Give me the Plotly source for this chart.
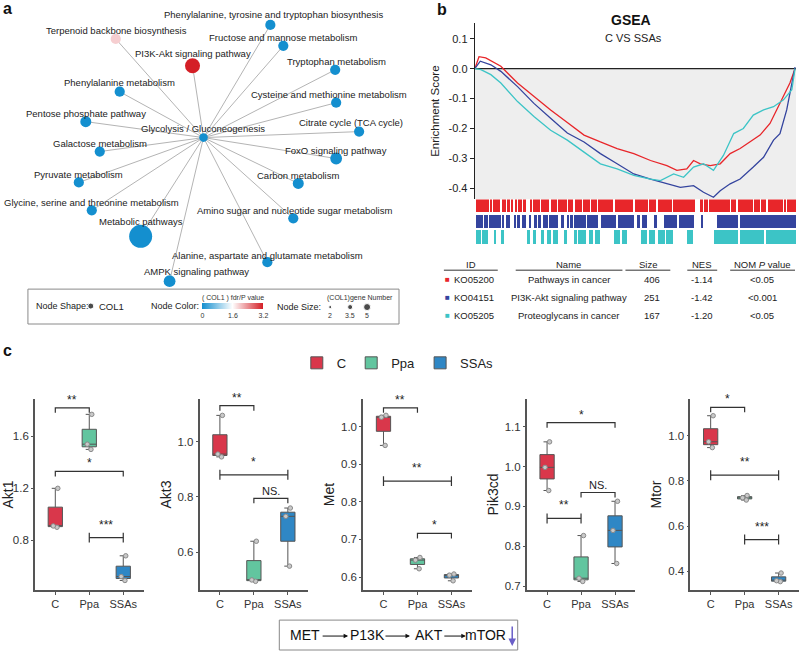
import plotly.graph_objects as go

W, H = 800, 657
FONT = "Arial, Liberation Sans, sans-serif"


def px(x):
    return x / W


def py(y):
    return 1 - y / H


# ---------------- Panel a: enrichment network (data) ----------------
pathway_names = [
    "Phenylalanine, tyrosine and tryptophan biosynthesis",
    "Terpenoid backbone biosynthesis",
    "Fructose and mannose metabolism",
    "PI3K-Akt signaling pathway",
    "Tryptophan metabolism",
    "Phenylalanine metabolism",
    "Cysteine and methionine metabolism",
    "Pentose phosphate pathway",
    "Citrate cycle (TCA cycle)",
    "Glycolysis / Gluconeogenesis",
    "Galactose metabolism",
    "FoxO signaling pathway",
    "Pyruvate metabolism",
    "Carbon metabolism",
    "Glycine, serine and threonine metabolism",
    "Amino sugar and nucleotide sugar metabolism",
    "Metabolic pathways",
    "Alanine, aspartate and glutamate metabolism",
    "AMPK signaling pathway",
]
pathway_gene_number = [2, 2, 2, 5, 2, 2, 2, 2.5, 2, 1, 2, 3, 2, 2.5, 2, 2, 10, 2, 3]
pathway_fdr = [0, 1.95, 0, 3.2, 0, 0, 0, 0, 0, 0, 0, 0, 0, 0, 0, 0, 0, 0, 0]
hub_name = "Glycolysis / Gluconeogenesis"

# network layout (pixel space of panel a)
node_pos = [(269, 25), (114, 39), (282, 46), (191, 66), (334, 70), (118, 92),
            (335, 103), (84, 122), (358, 132), (202, 138), (98, 152), (335, 159),
            (77, 183), (297, 184), (90, 211), (292, 219), (139, 237), (266, 263),
            (168, 282)]
label_pos = [(272, 15), (115, 31), (282, 38), (191, 54), (335, 62), (118, 83),
             (328, 95), (84, 114), (350, 123), (202, 129), (98, 144), (335, 151),
             (77, 175), (297, 176), (90, 203), (293, 211), (139, 222), (266, 256),
             (195, 272)]

# ---------------- Panel b: GSEA (data) ----------------
gsea_ids = ["KO05200", "KO04151", "KO05205"]
gsea_names = ["Pathways in cancer", "PI3K-Akt signaling pathway", "Proteoglycans in cancer"]
gsea_sizes = ["406", "251", "167"]
gsea_nes = ["-1.14", "-1.42", "-1.20"]
gsea_pvals = ["<0.05", "<0.001", "<0.05"]
gsea_colors = ["#e8262a", "#34449e", "#3cc4c6"]

rank_red = [0, 1.3, 3.4, 8.1, 13.3, 18.4, 23.6, 28.8, 34.0, 39.1, 44.3, 49.5, 54.7, 59.8,
            62.9, 66.0, 68.1, 70.2, 73.3, 76.4, 79.5, 82.6, 85.7, 88.8, 91.9, 94.0, 96.1, 98.1, 99.7]
es_red = [0, 0.04, 0.036, 0.008, -0.048, -0.093, -0.138, -0.18, -0.222, -0.245, -0.267, -0.284,
          -0.307, -0.324, -0.34, -0.335, -0.307, -0.318, -0.324, -0.318, -0.284, -0.267, -0.245,
          -0.222, -0.183, -0.138, -0.093, -0.048, 0]
rank_blue = [0, 1.7, 5.0, 8.1, 13.3, 18.4, 23.6, 28.8, 34.0, 39.1, 44.3, 49.5, 54.7, 59.8, 64.0,
             68.1, 71.2, 74.3, 76.4, 79.5, 82.6, 86.7, 89.9, 93.0, 95.0, 97.1, 98.6, 99.7]
es_blue = [0, 0.025, 0.013, -0.009, -0.06, -0.116, -0.166, -0.215, -0.245, -0.284, -0.318, -0.352,
           -0.369, -0.385, -0.397, -0.391, -0.413, -0.43, -0.408, -0.385, -0.369, -0.329, -0.296,
           -0.239, -0.217, -0.138, -0.048, 0.005]
rank_cyan = [0, 1.9, 5.0, 8.1, 13.3, 18.4, 23.6, 28.8, 34.0, 39.1, 44.3, 49.5, 54.7, 57.8, 61.9,
             65.0, 68.1, 71.2, 74.3, 77.4, 80.6, 83.6, 86.7, 89.9, 93.0, 96.1, 98.7, 99.7]
es_cyan = [0, -0.003, -0.02, -0.048, -0.11, -0.16, -0.206, -0.239, -0.279, -0.318, -0.335, -0.357,
           -0.369, -0.374, -0.352, -0.363, -0.329, -0.318, -0.34, -0.29, -0.217, -0.2, -0.155,
           -0.138, -0.127, -0.104, -0.07, 0]

# hit regions (rank %, start-end) for the barcode strips
hits_red = [[0.3, 4.3], [4.7, 5.3], [5.7, 7.9], [8.3, 9.7], [10.1, 11.0], [11.4, 12.0],
            [12.4, 13.1], [13.5, 13.9], [14.3, 14.6], [15.0, 15.8], [17.2, 17.7], [18.1, 20.3],
            [20.7, 23.2], [23.6, 25.5], [25.9, 28.6], [29.0, 30.6], [31.0, 33.2], [33.6, 35.8],
            [36.2, 37.9], [38.3, 43.1], [43.5, 49.3], [49.7, 53.9], [54.3, 56.5], [56.9, 61.2],
            [61.6, 68.6], [70.2, 71.0], [71.4, 72.6], [73.0, 79.3], [79.7, 81.4], [81.8, 86.5],
            [86.9, 88.6], [89.0, 90.7], [91.1, 95.9], [96.3, 96.9], [97.3, 100]]
hits_blue = [[0.3, 2.4], [2.9, 4.0], [4.5, 8.1], [8.7, 9.1], [9.7, 10.1], [10.5, 10.8],
             [12.2, 12.6], [13.0, 14.1], [14.7, 15.0], [15.4, 15.8], [17.0, 17.5], [18.6, 19.2],
             [19.7, 20.6], [21.1, 22.8], [23.1, 25.7], [26.7, 27.7], [28.8, 29.3], [29.8, 30.4],
             [30.8, 34.5], [35.0, 38.3], [39.1, 44.0], [44.4, 49.5], [50.5, 51.3], [51.9, 53.6],
             [55.7, 56.7], [58.8, 63.0], [63.4, 68.1], [70.6, 71.0], [75.4, 82.0], [82.4, 100]]
hits_cyan = [[0.3, 1.8], [2.3, 3.9], [6.0, 6.5], [8.1, 9.1], [16.4, 17.0], [18.0, 19.0],
             [20.5, 21.5], [22.5, 23.6], [24.2, 25.7], [27.7, 28.7], [30.8, 31.6], [32.2, 34.4],
             [35.4, 36.8], [37.4, 38.9], [43.3, 45.0], [45.6, 47.4], [51.6, 53.6], [54.0, 56.0],
             [57.0, 59.0], [59.6, 61.7], [66.0, 68.0], [74.3, 82.0], [82.5, 90.0], [90.5, 100]]

# ---------------- Panel c: qPCR box plots (data) ----------------
groups = ["C", "Ppa", "SSAs"]
group_colors = ["#d9374b", "#62c59f", "#2f87c5"]
genes = ["Akt1", "Akt3", "Met", "Pik3cd", "Mtor"]
akt1_vals = [[0.90, 0.91, 1.20], [1.50, 1.54, 1.77], [0.49, 0.52, 0.68]]
akt3_vals = [[0.945, 0.955, 1.095], [0.495, 0.50, 0.64], [0.55, 0.73, 0.76]]
met_vals = [[0.95, 1.025, 1.03], [0.622, 0.645, 0.652], [0.59, 0.605, 0.608]]
pik3cd_vals = [[0.94, 0.998, 1.062], [0.712, 0.72, 0.827], [0.757, 0.84, 0.913]]
mtor_vals = [[0.947, 0.973, 1.088], [0.715, 0.725, 0.735], [0.354, 0.358, 0.392]]
gene_values = [akt1_vals, akt3_vals, met_vals, pik3cd_vals, mtor_vals]

# significance comparisons: (group a, group b, bracket height, label)
akt1_sig = [("C", "Ppa", 1.82, "**"), ("C", "SSAs", 1.33, "*"), ("Ppa", "SSAs", 0.82, "***")]
akt3_sig = [("C", "Ppa", 1.13, "**"), ("C", "SSAs", 0.88, "*"), ("Ppa", "SSAs", 0.795, "NS.")]
met_sig = [("C", "Ppa", 1.05, "**"), ("C", "SSAs", 0.855, "**"), ("Ppa", "SSAs", 0.716, "*")]
pik3cd_sig = [("C", "SSAs", 1.11, "*"), ("Ppa", "SSAs", 0.935, "NS."), ("C", "Ppa", 0.87, "**")]
mtor_sig = [("C", "Ppa", 1.125, "*"), ("C", "SSAs", 0.825, "**"), ("Ppa", "SSAs", 0.54, "***")]
gene_sig = [akt1_sig, akt3_sig, met_sig, pik3cd_sig, mtor_sig]

# ---------------- styling / layout (not data) ----------------
bracket_style = [["down", "down", "h"], ["down", "h", "down"], ["down", "h", "down"],
                 ["down", "down", "h"], ["down", "h", "h"]]
box_yranges = [[0.415, 1.89], [0.463, 1.155], [0.565, 1.074], [0.69, 1.17], [0.316, 1.163]]
box_ytick = [[0.8, 1.2, 1.6], [0.6, 0.8, 1.0], [0.6, 0.7, 0.8, 0.9, 1.0],
             [0.7, 0.8, 0.9, 1.0, 1.1], [0.4, 0.6, 0.8, 1.0]]
box_left_px = [33, 198, 362, 526, 690]
box_width_px = 109
box_top_px, box_bot_px = 400, 592

gsea_ticks = [0.1, 0.0, -0.1, -0.2, -0.3, -0.4]
gsea_ticktext = ["0.1", "0.0", "-0.1", "-0.2", "-0.3", "-0.4"]

fig = go.Figure()
annotations = []
shapes = []


def text(x, y, s, size=9.5, anchor="center", color="#222", vanchor="middle", **kw):
    annotations.append(dict(x=px(x), y=py(y), xref="paper", yref="paper", text=s,
                            showarrow=False, xanchor=anchor, yanchor=vanchor,
                            font=dict(size=size, color=color, family=FONT), **kw))


# ---------- Panel a ----------
hub = pathway_names.index(hub_name)
ex, ey = [], []
for i, (nx, ny) in enumerate(node_pos):
    if i == hub:
        continue
    ex += [node_pos[hub][0], nx, None]
    ey += [node_pos[hub][1], ny, None]
fig.add_trace(go.Scatter(x=ex, y=ey, mode="lines", line=dict(color="#b4b4b4", width=1),
                         hoverinfo="skip", showlegend=False, xaxis="x", yaxis="y"))
fig.add_trace(go.Scatter(
    x=[p[0] for p in node_pos], y=[p[1] for p in node_pos], mode="markers",
    text=pathway_names, hoverinfo="text", showlegend=False, xaxis="x", yaxis="y",
    cliponaxis=False,
    marker=dict(size=[7 + 1.6 * g for g in pathway_gene_number], color=pathway_fdr,
                cmin=0, cmax=3.2, line=dict(width=0), opacity=1,
                colorscale=[[0, "#148fcf"], [0.5, "#ffffff"], [1, "#d41f26"]],
                showscale=True,
                colorbar=dict(orientation="h", x=px(231.5), xanchor="center",
                              y=py(304), yanchor="top", lenmode="pixels", len=61,
                              thicknessmode="pixels", thickness=6, outlinewidth=0,
                              xpad=0, ypad=0, tickvals=[0, 1.6, 3.2],
                              ticktext=["0", "1.6", "3.2"], ticks="",
                              tickfont=dict(size=7, color="#333", family=FONT)))))
for name, (lx, ly) in zip(pathway_names, label_pos):
    text(lx, ly, name, size=9.5)

# legend box of panel a
shapes.append(dict(type="rect", xref="paper", yref="paper", x0=px(26), x1=px(398),
                   y0=py(290), y1=py(325), line=dict(color="#8a8a8a", width=1)))
text(32, 307, "Node Shape:", size=9, anchor="left")
text(95, 307, "COL1", size=9.5, anchor="left")
text(147, 307, "Node Color:", size=9, anchor="left")
text(232, 299, "( COL1 ) fdr/P value", size=7, color="#333")
text(274, 308, "Node Size:", size=9, anchor="left")
text(359, 299, "(COL1)gene Number", size=7, color="#333")
size_legend = [2, 3.5, 5]
fig.add_trace(go.Scatter(x=[89, 329, 349, 366], y=[307, 308, 308, 308], mode="markers",
                         marker=dict(color="black", size=[6, 3, 5, 7]), cliponaxis=False,
                         hoverinfo="skip", showlegend=False, xaxis="x", yaxis="y"))
for sx, s in zip([329, 349, 366], size_legend):
    text(sx, 316, str(s), size=7, color="#333")

# ---------- Panel b ----------
fig.add_trace(go.Scatter(x=[0, 100], y=[0, 0], mode="lines", line=dict(color="#222", width=1.2),
                         hoverinfo="skip", showlegend=False, xaxis="x2", yaxis="y2"))
for rk, es, col in [(rank_red, es_red, gsea_colors[0]), (rank_blue, es_blue, gsea_colors[1]),
                    (rank_cyan, es_cyan, gsea_colors[2])]:
    fig.add_trace(go.Scatter(x=rk, y=es, mode="lines", line=dict(color=col, width=1.3),
                             hoverinfo="skip", showlegend=False, xaxis="x2", yaxis="y2"))
shapes.append(dict(type="rect", xref="x2", yref="y2", x0=0, x1=100, y0=-0.437, y1=0,
                   fillcolor="#eeeeee", line=dict(width=0), layer="below"))

strip_base = [0, 16, 31]
strip_h = [13, 13, 14]
for hits, col, b, h in zip([hits_red, hits_blue, hits_cyan], gsea_colors, strip_base, strip_h):
    fig.add_trace(go.Bar(x=[(a + c) / 2 for a, c in hits], width=[c - a for a, c in hits],
                         y=[h] * len(hits), base=[b] * len(hits),
                         marker=dict(color=col, line=dict(width=0)),
                         hoverinfo="skip", showlegend=False, xaxis="x3", yaxis="y3"))

text(631, 20, "<b>GSEA</b>", size=14, color="#111")
text(633, 38, "C VS SSAs", size=11)

# table
hdr_y, line_y = 265, 271
row_y = [280, 298, 316]
text(470, hdr_y, "ID", size=9.5)
text(568, hdr_y, "Name", size=9.5)
text(648, hdr_y, "Size", size=9.5)
text(702, hdr_y, "NES", size=9.5)
text(762, hdr_y, "NOM <i>P</i> value", size=9.5)
for x0, x1 in [(443, 497), (515, 622), (625, 670), (687, 717), (730, 795)]:
    shapes.append(dict(type="line", xref="paper", yref="paper", x0=px(x0), x1=px(x1),
                       y0=py(line_y), y1=py(line_y), line=dict(color="#333", width=1)))
for i in range(3):
    text(447, row_y[i], "■", size=8, color=gsea_colors[i])
    text(451, row_y[i], gsea_ids[i], size=9.5, anchor="left")
    text(568, row_y[i], gsea_names[i], size=9.5)
    text(652, row_y[i], gsea_sizes[i], size=9.5)
    text(702, row_y[i], gsea_nes[i], size=9.5)
    text(762, row_y[i], gsea_pvals[i], size=9.5)

# ---------- Panel c ----------
for gi, gene in enumerate(genes):
    ax = str(gi + 4)
    rng = box_yranges[gi]
    for k, grp in enumerate(groups):
        vals = gene_values[gi][k]
        fig.add_trace(go.Box(
            x=[grp] * len(vals), y=vals, name=grp, legendgroup=grp, showlegend=(gi == 0),
            boxpoints="all", jitter=0.45, pointpos=0, width=0.42, whiskerwidth=0.5,
            quartilemethod="inclusive",
            fillcolor=group_colors[k], line=dict(color="#555555", width=1),
            marker=dict(size=4.5, color="#c9c9c9", line=dict(color="#8a8a8a", width=1)),
            xaxis="x" + ax, yaxis="y" + ax, hoverinfo="y"))
    d = (rng[1] - rng[0]) * 5 / (box_bot_px - box_top_px)
    for (ga, gb, lvl, lab), sty in zip(gene_sig[gi], bracket_style[gi]):
        if sty == "down":
            bx, by = [ga, ga, gb, gb], [lvl - d, lvl, lvl, lvl - d]
        else:
            bx = [ga, ga, None, ga, gb, None, gb, gb]
            by = [lvl - d, lvl + d, None, lvl, lvl, None, lvl - d, lvl + d]
        fig.add_trace(go.Scatter(x=bx, y=by, mode="lines", line=dict(color="#333", width=1.2),
                                 hoverinfo="skip", showlegend=False,
                                 xaxis="x" + ax, yaxis="y" + ax))
        mid = (groups.index(ga) + groups.index(gb)) / 2
        annotations.append(dict(x=mid, y=lvl + (d if sty == "h" else 0), xref="x" + ax,
                                yref="y" + ax, text=lab, showarrow=False, yanchor="bottom",
                                xanchor="center", yshift=-1,
                                font=dict(size=12 if "*" in lab else 11,
                                          color="#222", family=FONT)))

# pathway summary box
shapes.append(dict(type="rect", xref="paper", yref="paper", x0=px(278), x1=px(517),
                   y0=py(622), y1=py(652), line=dict(color="#888", width=1)))
text(304, 637, "MET", size=14, color="#111")
text(366, 637, "P13K", size=14, color="#111")
text(428, 637, "AKT", size=14, color="#111")
text(485, 637, "mTOR", size=14, color="#111")
for x_end, length in [(347, 27), (409, 26), (465, 23)]:
    annotations.append(dict(x=px(x_end), y=py(638), xref="paper", yref="paper", text="",
                            showarrow=True, ax=-length, ay=0, arrowhead=2, arrowsize=0.9,
                            arrowwidth=1, arrowcolor="#111"))
annotations.append(dict(x=px(511.5), y=py(648), xref="paper", yref="paper", text="",
                        showarrow=True, ax=0, ay=-21, arrowhead=2, arrowsize=1,
                        arrowwidth=1.5, arrowcolor="#6a5fc8"))

# panel letters
for lx, ly, s in [(6, 9, "a"), (441, 10, "b"), (6, 352, "c")]:
    text(lx, ly, "<b>%s</b>" % s, size=16, color="#111")

hidden = dict(visible=False, showgrid=False, zeroline=False)
layout = dict(
    width=W, height=H, margin=dict(l=0, r=0, t=0, b=0), paper_bgcolor="white",
    plot_bgcolor="rgba(0,0,0,0)", font=dict(family=FONT, color="#222"),
    boxmode="overlay", bargap=0,
    xaxis=dict(domain=[0, px(400)], range=[0, 400], anchor="y", **hidden),
    yaxis=dict(domain=[py(330), 1], range=[330, 0], anchor="x", **hidden),
    xaxis2=dict(domain=[px(474), px(796)], range=[0, 100], anchor="y2", **hidden),
    yaxis2=dict(domain=[py(200), py(23)], range=[-0.437, 0.153], anchor="x2",
                showgrid=False, zeroline=False, showline=True, linecolor="#222", linewidth=1.2,
                ticks="outside", ticklen=4, tickcolor="#222", tickvals=gsea_ticks,
                ticktext=gsea_ticktext, tickfont=dict(size=11, color="#222"),
                title=dict(text="Enrichment Score", font=dict(size=11.5), standoff=6)),
    xaxis3=dict(domain=[px(474), px(796)], range=[0, 100], anchor="y3", **hidden),
    yaxis3=dict(domain=[py(245), py(200)], range=[45, 0], anchor="x3", **hidden),
    legend=dict(orientation="h", x=0.496, xanchor="center", y=py(364), yanchor="middle",
                font=dict(size=13, color="#222"), bgcolor="rgba(0,0,0,0)"),
    annotations=annotations, shapes=shapes,
)
for gi, gene in enumerate(genes):
    ax = str(gi + 4)
    x0 = box_left_px[gi]
    layout["xaxis" + ax] = dict(
        domain=[px(x0), px(x0 + box_width_px)], anchor="y" + ax, type="category",
        categoryorder="array", categoryarray=groups, range=[-0.6, 2.6],
        showline=True, linecolor="#555", linewidth=1.5, ticks="outside", ticklen=3,
        tickcolor="#555", showgrid=False, zeroline=False, tickfont=dict(size=11, color="#333"))
    layout["yaxis" + ax] = dict(
        domain=[py(box_bot_px), py(box_top_px)], anchor="x" + ax, range=box_yranges[gi],
        showline=True, linecolor="#555", linewidth=1.5, ticks="outside", ticklen=2,
        tickcolor="#555", showgrid=False, zeroline=False, tickvals=box_ytick[gi],
        tickformat=".1f", tickfont=dict(size=11.5, color="#333"),
        title=dict(text=gene, font=dict(size=14, color="#222"), standoff=3))

fig.update_layout(**layout)
fig.write_html("out.html", config={"displayModeBar": False},
               post_script="document.body.style.margin='0';document.body.style.padding='0';"
                           "document.body.style.overflow='hidden';")
